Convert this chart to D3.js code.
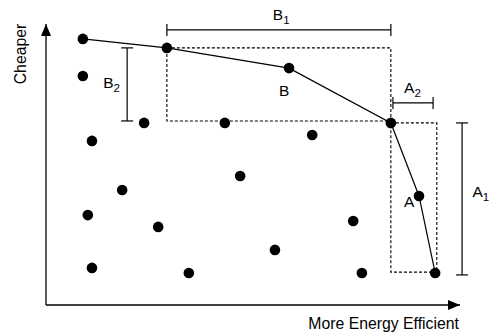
<!DOCTYPE html>
<html><head><meta charset="utf-8">
<script src="https://cdn.jsdelivr.net/npm/d3@7"></script>
<style>body{margin:0;background:#fff}svg{display:block}text{font-family:"Liberation Sans",Arial,sans-serif;fill:#000}</style>
</head><body><svg id="c" width="492" height="335"></svg>
<script>
// Data (x = energy efficiency, y = cheapness), arbitrary 0-100 units
const frontier = [[8.9,94.7],[29.2,91.5],[58.7,84.3],[83.3,64.8],[90.1,38.8],[94.0,11.4]];
const others = [[8.9,81.5],[23.7,64.8],[43.2,64.8],[11.1,58.4],[64.3,60.5],[46.9,45.9],[18.4,40.9],[10.1,32.0],[27.1,27.8],[11.1,13.2],[34.5,11.4],[74.2,29.9],[55.3,19.6],[76.3,11.4]];
// dashed boxes [x0, y0, x1, y1]
const boxes = [[29.2,91.5,83.3,65.5],[83.3,64.8,94.4,11.7]];
// brackets: fixed coord, from, to
const hBrackets = [[97.9,29.2,83.3],[71.9,83.8,93.5]];
const vBrackets = [[19.6,91.5,65.5],[100.5,64.8,10.7]];
// labels: [main, sub, x, y]
const labels = [["B","1",54.8,101.5],["B","2",13.8,77.2],["A","2",86.5,75.3],["A","1",103.0,38.4],["B","",56.3,74.4],["A","",86.5,34.9]];
const xTitle = "More Energy Efficient", yTitle = "Cheaper";

const svg = d3.select("#c");
const x = d3.scaleLinear().domain([0,100]).range([46,460]);
const y = d3.scaleLinear().domain([0,100]).range([305,24]);

// axes with arrows
svg.append("defs").append("marker").attr("id","ar").attr("viewBox","0 0 12 10").attr("refX",12).attr("refY",5)
  .attr("markerWidth",12).attr("markerHeight",10).attr("markerUnits","userSpaceOnUse").attr("orient","auto")
  .append("path").attr("d","M0,0L12,5L0,10Z").attr("fill","#000");
svg.append("line").attr("x1",x(0)).attr("y1",y(0)).attr("x2",x(0)).attr("y2",y(100)).attr("stroke","#000").attr("stroke-width",1.3).attr("marker-end","url(#ar)");
svg.append("line").attr("x1",x(0)).attr("y1",y(0)).attr("x2",x(100)).attr("y2",y(0)).attr("stroke","#000").attr("stroke-width",1.3).attr("marker-end","url(#ar)");

// dashed boxes
svg.selectAll("rect.box").data(boxes).join("rect").attr("class","box")
  .attr("x",d=>x(d[0])).attr("y",d=>y(d[1])).attr("width",d=>x(d[2])-x(d[0])).attr("height",d=>y(d[3])-y(d[1]))
  .attr("fill","none").attr("stroke","#000").attr("stroke-width",1.1).attr("stroke-dasharray","3,2");

// frontier line
svg.append("path").datum(frontier).attr("d",d3.line().x(d=>x(d[0])).y(d=>y(d[1])))
  .attr("fill","none").attr("stroke","#000").attr("stroke-width",1.2);

// brackets
const bg = svg.append("g").attr("stroke","#000").attr("stroke-width",1.2);
hBrackets.forEach(b=>{
  const yy=y(b[0]);
  bg.append("line").attr("x1",x(b[1])).attr("x2",x(b[2])).attr("y1",yy).attr("y2",yy);
  [b[1],b[2]].forEach(v=>bg.append("line").attr("x1",x(v)).attr("x2",x(v)).attr("y1",yy-6).attr("y2",yy+6));
});
vBrackets.forEach(b=>{
  const xx=x(b[0]);
  bg.append("line").attr("x1",xx).attr("x2",xx).attr("y1",y(b[1])).attr("y2",y(b[2]));
  [b[1],b[2]].forEach(v=>bg.append("line").attr("x1",xx-6).attr("x2",xx+6).attr("y1",y(v)).attr("y2",y(v)));
});

// points
svg.selectAll("circle").data(frontier.concat(others)).join("circle")
  .attr("cx",d=>x(d[0])).attr("cy",d=>y(d[1])).attr("r",5.3).attr("fill","#000");

// labels
labels.forEach(l=>{
  const t = svg.append("text").attr("x",x(l[2])).attr("y",y(l[3])).attr("font-size",15.5).text(l[0]);
  if(l[1]) t.append("tspan").attr("font-size",11.5).attr("dy",4).text(l[1]);
});
svg.append("text").attr("x",459).attr("y",329).attr("text-anchor","end").attr("font-size",15.8).text(xTitle);
svg.append("text").attr("transform","translate(26,54) rotate(-90)").attr("text-anchor","middle").attr("font-size",15.8).text(yTitle);
</script></body></html>
